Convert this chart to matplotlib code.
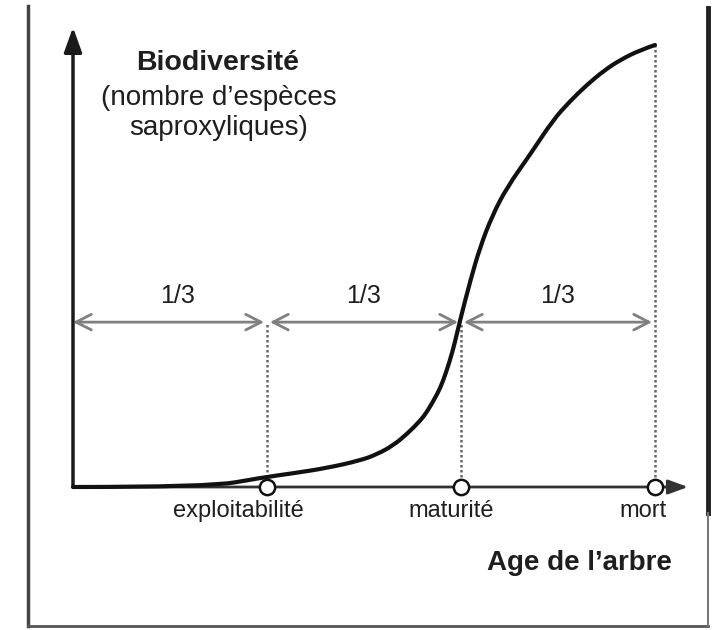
import matplotlib
matplotlib.use("Agg")
import matplotlib.pyplot as plt
from matplotlib.lines import Line2D
from matplotlib.path import Path
from matplotlib.patches import PathPatch

plt.rcParams['font.family'] = ['Liberation Sans', 'DejaVu Sans']

# ---- data (x: age in thirds of the tree's life, y: relative biodiversity) ----
age = [0.0, 0.70, 0.97, 1.134, 1.309, 1.48, 1.567, 1.65, 1.722, 1.79, 1.825,
       1.88, 1.907, 1.943, 1.969, 1.995, 2.05, 2.098, 2.16, 2.237, 2.356,
       2.474, 2.56, 2.649, 2.74, 2.82, 2.92, 3.0]
biodiv = [0.0, 0.0, 0.021, 0.031, 0.043, 0.060, 0.074, 0.094, 0.120, 0.150, 0.170,
          0.212, 0.239, 0.286, 0.328, 0.377, 0.470, 0.542, 0.613, 0.678, 0.752,
          0.830, 0.872, 0.910, 0.943, 0.966, 0.988, 1.0]

stage_x = [1, 2, 3]
stage_labels = ["exploitabilité", "maturité", "mort"]
segments = [(0, 1), (1, 2), (2, 3)]
segment_label = "1/3"
y_title = ["Biodiversité", "(nombre d\u2019espèces", "saproxyliques)"]
x_title = "Age de l\u2019arbre"

W, H = 713, 630
fig = plt.figure(figsize=(W / 100, H / 100), dpi=100)
ax = fig.add_axes([0, 0, 1, 1])
# pixel mapping: x=0 -> 73px, 194 px/unit ; y=0 -> 487px from top, 442 px/unit
x0p, sx = 73, 194
y0p, sy = 487, 442
ax.set_xlim(-x0p / sx, (W - x0p) / sx)
ax.set_ylim(-(H - y0p) / sy, y0p / sy)
ax.axis('off')

# ---- outer frame ----
def fl(xs, ys, **kw):
    fig.add_artist(Line2D([x / W for x in xs], [1 - y / H for y in ys],
                          transform=fig.transFigure, **kw))
fl([28, 28], [6, 626], color='#444444', lw=2.5)
fl([28, 708], [626, 626], color='#555555', lw=2)
fl([708, 708], [8, 513], color='#222222', lw=3.5)
fl([708, 708], [513, 626], color='#777777', lw=1.5)

# ---- axes arrows ----
ax.annotate('', xy=(0, 1.04), xytext=(0, 0),
            arrowprops=dict(arrowstyle='-|>,head_length=0.75,head_width=0.27',
                            lw=2.5, color='#1a1a1a', mutation_scale=20,
                            shrinkA=0, shrinkB=0), zorder=3)
ax.annotate('', xy=(3.17, 0), xytext=(0, 0),
            arrowprops=dict(arrowstyle='-|>,head_length=0.6,head_width=0.22',
                            lw=2, color='#333333', mutation_scale=20,
                            shrinkA=0, shrinkB=0), zorder=3)

# ---- dotted verticals ----
arrow_y = 0.373
for sxv in stage_x:
    top = arrow_y if sxv < 3 else 1.0
    ax.plot([sxv, sxv], [0, top], color='#666666', lw=1.8,
            linestyle=(0, (1, 1)), zorder=2)

# ---- 1/3 double arrows ----
gap = 0.015
for a, b in segments:
    ax.annotate('', xy=(b - gap, arrow_y), xytext=(a + (gap if a > 0 else 0), arrow_y),
                arrowprops=dict(arrowstyle='<->,head_length=0.55,head_width=0.28',
                                lw=2, color='#808080', mutation_scale=20,
                                shrinkA=0, shrinkB=0), zorder=2)
    ax.text((a + b) / 2 + (0.04 if a == 0 else 0), 0.416, segment_label,
            ha='center', va='baseline', fontsize=18, color='#1e1e1e')

# ---- curve (smooth quadratic path through the read points) ----
pts = list(zip(age, biodiv))
verts = [pts[0]]
codes = [Path.MOVETO]
n = len(pts)
for i in range(1, n - 1):
    ctrl = pts[i]
    if i < n - 2:
        end = ((pts[i][0] + pts[i + 1][0]) / 2, (pts[i][1] + pts[i + 1][1]) / 2)
    else:
        end = pts[-1]
    verts += [ctrl, end]
    codes += [Path.CURVE3, Path.CURVE3]
ax.add_patch(PathPatch(Path(verts, codes), fill=False, edgecolor='#111111',
                       lw=3, capstyle='round', joinstyle='round', zorder=4))

# ---- stage markers ----
ax.plot(stage_x, [0] * len(stage_x), 'o', mfc='white', mec='#111111',
        ms=11, mew=1.8, zorder=5, clip_on=False)
label_dx = [-0.15, -0.05, -0.06]
for sxv, lab, dx in zip(stage_x, stage_labels, label_dx):
    ax.text(sxv + dx, -0.068, lab, ha='center', va='baseline',
            fontsize=17, color='#1e1e1e')

# ---- titles ----
ax.text(0.745, 0.943, y_title[0], ha='center', va='baseline',
        fontsize=20.5, fontweight='bold', color='#1e1e1e')
ax.text(0.75, 0.864, y_title[1], ha='center', va='baseline',
        fontsize=20, color='#1e1e1e')
ax.text(0.75, 0.796, y_title[2], ha='center', va='baseline',
        fontsize=20, color='#1e1e1e')
ax.text(2.608, -0.188, x_title, ha='center', va='baseline',
        fontsize=20, fontweight='bold', color='#1e1e1e')

fig.savefig('out.png', dpi=100)
